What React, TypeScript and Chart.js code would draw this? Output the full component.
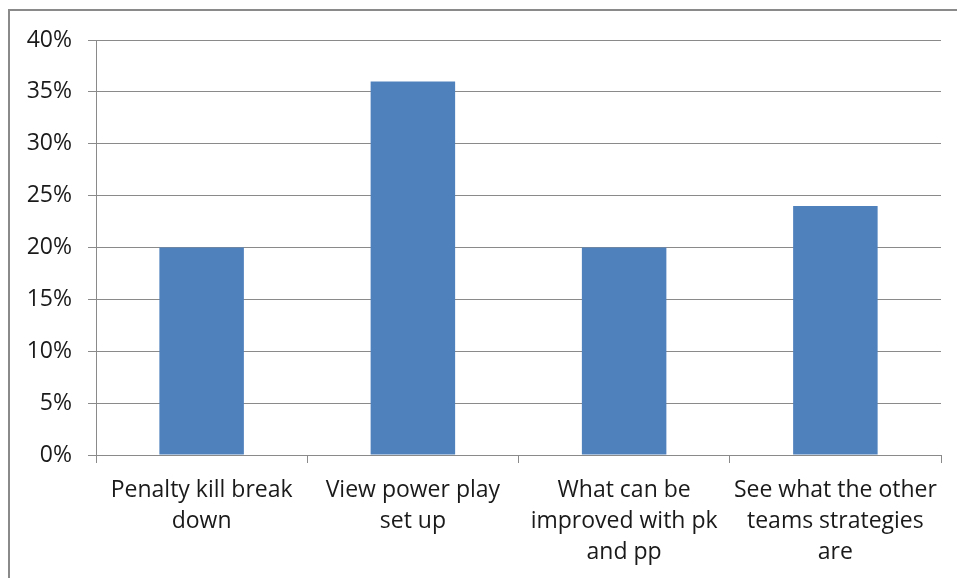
import React, { useEffect, useRef } from "react";
import { Chart, registerables } from "chart.js";

Chart.register(...registerables);

const categories: string[][] = [
  ["Penalty kill break", "down"],
  ["View power play", "set up"],
  ["What can be", "improved with pk", "and pp"],
  ["See what the other", "teams strategies", "are"],
];
const values: number[] = [20, 36, 20, 24];
const yTicks: number[] = [0, 5, 10, 15, 20, 25, 30, 35, 40];

const FONT = "'Open Sans', Lato, sans-serif";
const GRID = "#8a8a8a";

export default function App() {
  const ref = useRef<HTMLCanvasElement | null>(null);
  useEffect(() => {
    if (!ref.current) return;
    const chart = new Chart(ref.current, {
      type: "bar",
      data: {
        labels: categories,
        datasets: [
          {
            data: values,
            backgroundColor: "#4F81BD",
            borderWidth: 0,
            barPercentage: 0.4,
            categoryPercentage: 1,
          },
        ],
      },
      options: {
        animation: false,
        responsive: false,
        maintainAspectRatio: false,
        layout: { padding: { top: 40, right: 16, bottom: 0, left: 0 } },
        plugins: { legend: { display: false }, tooltip: { enabled: false } },
        scales: {
          x: {
            grid: {
              offset: true,
              drawOnChartArea: false,
              drawTicks: true,
              tickLength: 8,
              color: GRID,
            },
            border: { color: GRID, width: 1 },
            ticks: {
              color: "#1a1a1a",
              font: { family: FONT, size: 23, lineHeight: 1.35 },
              padding: 12,
              maxRotation: 0,
              autoSkip: false,
            },
            afterFit: (s: any) => {
              s.height = 123;
            },
          },
          y: {
            min: 0,
            max: 40,
            afterBuildTicks: (s: any) => {
              s.ticks = yTicks.map((v) => ({ value: v }));
            },
            grid: { color: GRID, tickLength: 8, drawTicks: true },
            border: { color: GRID, width: 1 },
            ticks: {
              color: "#1a1a1a",
              font: { family: FONT, size: 23 },
              padding: 16,
              callback: (v: any) => v + "%",
            },
            afterFit: (s: any) => {
              s.width = 96;
            },
          },
        },
      },
    });
    return () => chart.destroy();
  }, []);

  return (
    <div
      style={{
        position: "fixed",
        left: 0,
        top: 0,
        width: 957,
        height: 578,
        overflow: "hidden",
        background: "#fff",
      }}
    >
      <div
        style={{
          position: "absolute",
          left: 8,
          top: 9,
          width: 1100,
          height: 800,
          border: "2px solid #8a8a8a",
          boxSizing: "border-box",
        }}
      />
      <canvas
        ref={ref}
        width={957}
        height={578}
        style={{ position: "absolute", left: 0, top: 0, width: 957, height: 578 }}
      />
    </div>
  );
}
